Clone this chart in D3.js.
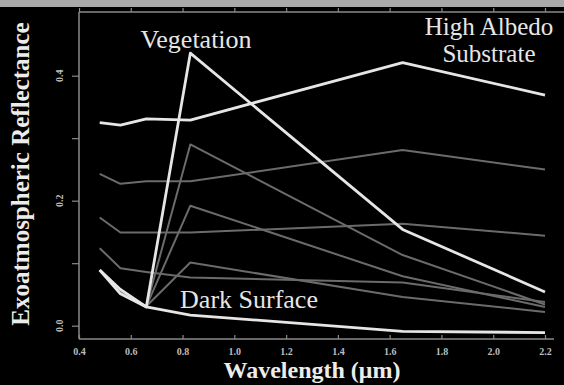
<!DOCTYPE html>
<html>
<head>
<meta charset="utf-8">
<script src="https://cdn.jsdelivr.net/npm/d3@7"></script>
<style>
  html, body { margin: 0; padding: 0; background: #000; }
  svg { display: block; }
</style>
</head>
<body>
<svg id="chart" width="564" height="385"></svg>
<script>
// Landsat TM band centres (µm)
const wavelengths = [0.48, 0.56, 0.66, 0.83, 1.65, 2.2];

// Endmember spectra
const highAlbedo  = [0.325, 0.321, 0.331, 0.329, 0.421, 0.369];
const vegetation  = [0.089, 0.058, 0.030, 0.436, 0.154, 0.054];
const darkSurface = [0.089, 0.051, 0.030, 0.017, -0.009, -0.011];

// Mixed spectra: substrate / dark surface
const mixSubstrate1 = [0.243, 0.227, 0.231, 0.231, 0.281, 0.250];
const mixSubstrate2 = [0.173, 0.149, 0.149, 0.149, 0.163, 0.144];
const mixSubstrate3 = [0.124, 0.092, 0.086, 0.077, 0.069, 0.038];

// Mixed spectra: vegetation / dark surface
const mixVeg1 = [0.089, 0.055, 0.031, 0.290, 0.113, 0.034];
const mixVeg2 = [0.089, 0.055, 0.031, 0.192, 0.079, 0.030];
const mixVeg3 = [0.089, 0.055, 0.031, 0.101, 0.046, 0.022];

const xTicks = [0.4, 0.6, 0.8, 1.0, 1.2, 1.4, 1.6, 1.8, 2.0, 2.2];
const yTicks = [0.0, 0.2, 0.4];
const yMinorTicks = [0.1, 0.3];

const endmemberLabels = [
  { text: "Vegetation", lines: ["Vegetation"] },
  { text: "High Albedo Substrate", lines: ["High Albedo", "Substrate"] },
  { text: "Dark Surface", lines: ["Dark Surface"] }
];

const svg = d3.select("#chart");
const W = 564, H = 385;
const plot = { left: 79, right: 545, top: 12, bottom: 339 };

const x = d3.scaleLinear().domain([0.4, 2.2]).range([plot.left, plot.right]);
const y = d3.scaleLinear().domain([-0.0213, 0.5019]).range([plot.bottom, plot.top]);

// background and grey band along the top
svg.append("rect").attr("width", W).attr("height", H).attr("fill", "#000");
svg.append("rect").attr("width", W).attr("height", 7).attr("fill", "#a9a9a9");

const axisColor = "#8a8a8a";
const serif = "'Liberation Serif', 'Times New Roman', Times, serif";

// bottom axis, ticks pointing into the plot
const xAxis = svg.append("g")
  .attr("transform", `translate(0,${plot.bottom})`)
  .call(d3.axisBottom(x).tickValues(xTicks).tickSizeInner(-4).tickSizeOuter(0).tickPadding(9)
        .tickFormat(d3.format(".1f")));
xAxis.select(".domain").remove();
xAxis.selectAll(".tick line").attr("stroke", axisColor).attr("stroke-width", 1.2);
xAxis.selectAll(".tick text")
  .attr("fill", "#bdbdbd").attr("font-family", serif)
  .attr("font-weight", "bold").attr("font-size", 10);

// top frame line with outward ticks
const xTop = svg.append("g")
  .attr("transform", `translate(0,${plot.top})`)
  .call(d3.axisTop(x).tickValues(xTicks).tickSize(4).tickFormat(""));
xTop.select(".domain").remove();
xTop.selectAll(".tick line").attr("stroke", axisColor).attr("stroke-width", 1.2);

// left axis with outward ticks and rotated labels
const yAxis = svg.append("g")
  .attr("transform", `translate(${plot.left},0)`)
  .call(d3.axisLeft(y).tickValues(yTicks.concat(yMinorTicks)).tickSize(7).tickFormat(""));
yAxis.select(".domain").remove();
yAxis.selectAll(".tick line").attr("stroke", axisColor).attr("stroke-width", 1.2);

svg.append("g").selectAll("text")
  .data(yTicks)
  .join("text")
  .attr("transform", d => `translate(${plot.left - 20},${y(d)}) rotate(-90)`)
  .attr("text-anchor", "middle")
  .attr("dominant-baseline", "central")
  .attr("fill", "#bdbdbd").attr("font-family", serif)
  .attr("font-weight", "bold").attr("font-size", 10)
  .text(d => d3.format(".1f")(d));

// frame lines
svg.append("line").attr("x1", plot.left).attr("x2", plot.left)
  .attr("y1", plot.top).attr("y2", plot.bottom)
  .attr("stroke", axisColor).attr("stroke-width", 1.5);
svg.append("line").attr("x1", plot.left).attr("x2", 554)
  .attr("y1", plot.bottom).attr("y2", plot.bottom)
  .attr("stroke", axisColor).attr("stroke-width", 1.5);
svg.append("line").attr("x1", plot.left).attr("x2", W)
  .attr("y1", plot.top).attr("y2", plot.top)
  .attr("stroke", axisColor).attr("stroke-width", 1.5);

// spectra
const line = d3.line().x((d, i) => x(wavelengths[i])).y(d => y(d));

const mixes = [mixSubstrate1, mixSubstrate2, mixSubstrate3, mixVeg1, mixVeg2, mixVeg3];
const endmembers = [highAlbedo, vegetation, darkSurface];

svg.append("g").selectAll("path")
  .data(mixes)
  .join("path")
  .attr("d", line)
  .attr("fill", "none")
  .attr("stroke", "#6b6b6b")
  .attr("stroke-width", 2)
  .attr("stroke-linejoin", "round");

svg.append("g").selectAll("path")
  .data(endmembers)
  .join("path")
  .attr("d", line)
  .attr("fill", "none")
  .attr("stroke", "#e6e6e6")
  .attr("stroke-width", 2.8)
  .attr("stroke-linejoin", "round");

// endmember labels
const labelPos = [
  { x: 196, y: 48, size: 26 },
  { x: 489, y: 35, size: 25 },
  { x: 249, y: 308, size: 26 }
];
endmemberLabels.forEach((lab, i) => {
  const t = svg.append("text")
    .attr("x", labelPos[i].x).attr("y", labelPos[i].y)
    .attr("text-anchor", "middle")
    .attr("fill", "#e6e6e6")
    .attr("font-family", serif)
    .attr("font-size", labelPos[i].size);
  lab.lines.forEach((s, j) => {
    t.append("tspan").attr("x", labelPos[i].x).attr("dy", j === 0 ? 0 : 27).text(s);
  });
});

// axis titles
svg.append("text")
  .attr("x", 312).attr("y", 378)
  .attr("text-anchor", "middle")
  .attr("fill", "#ececec")
  .attr("font-family", serif)
  .attr("font-weight", "bold")
  .attr("font-size", 24)
  .text("Wavelength (\u03BCm)");

svg.append("text")
  .attr("transform", "translate(29,174) rotate(-90)")
  .attr("text-anchor", "middle")
  .attr("fill", "#ececec")
  .attr("font-family", serif)
  .attr("font-weight", "bold")
  .attr("font-size", 25)
  .text("Exoatmospheric Reflectance");
</script>
</body>
</html>
